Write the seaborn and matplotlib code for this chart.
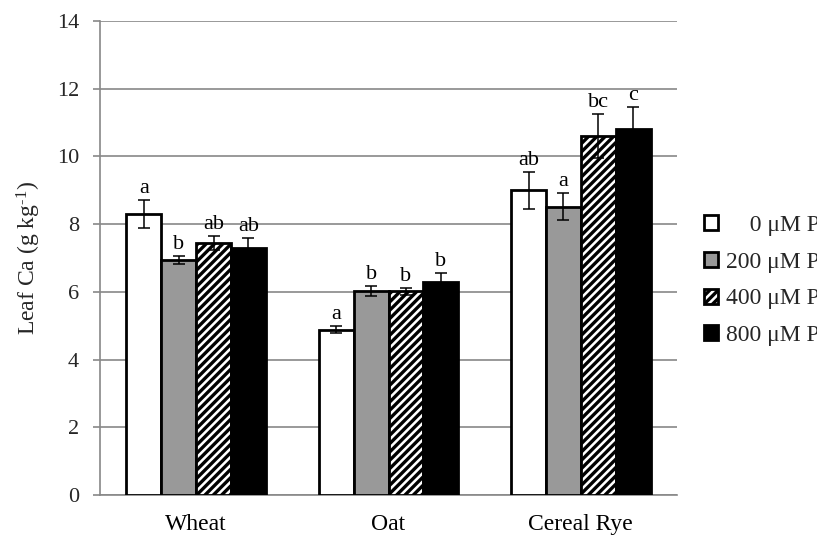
import matplotlib
matplotlib.use("Agg")
import matplotlib.pyplot as plt
import matplotlib.patches as mpatches
import numpy as np
import pandas as pd
import seaborn as sns

crops = ["Wheat", "Oat", "Cereal Rye"]
treatments = ["0 \u03bcM P", "200 \u03bcM P", "400 \u03bcM P", "800 \u03bcM P"]
leaf_ca = {
    "0 \u03bcM P":   [8.30, 4.88, 9.00],
    "200 \u03bcM P": [6.95, 6.02, 8.52],
    "400 \u03bcM P": [7.45, 6.02, 10.60],
    "800 \u03bcM P": [7.30, 6.30, 10.82],
}
leaf_ca_se = {
    "0 \u03bcM P":   [0.40, 0.10, 0.55],
    "200 \u03bcM P": [0.12, 0.15, 0.40],
    "400 \u03bcM P": [0.20, 0.10, 0.65],
    "800 \u03bcM P": [0.30, 0.25, 0.65],
}
letters = {
    "0 \u03bcM P":   ["a", "a", "ab"],
    "200 \u03bcM P": ["b", "b", "a"],
    "400 \u03bcM P": ["ab", "b", "bc"],
    "800 \u03bcM P": ["ab", "b", "c"],
}
legend_labels = ["\u2007\u20070 \u03bcM P", "200 \u03bcM P", "400 \u03bcM P", "800 \u03bcM P"]

rows = []
for t in treatments:
    for i, c in enumerate(crops):
        rows.append({"crop": c, "treatment": t, "ca": leaf_ca[t][i],
                     "se": leaf_ca_se[t][i], "letter": letters[t][i]})
df = pd.DataFrame(rows)

sns.set_theme(style="white")
plt.rcParams["font.family"] = ["Liberation Serif", "DejaVu Serif"]
plt.rcParams["mathtext.fontset"] = "custom"
plt.rcParams["mathtext.rm"] = "Liberation Serif"
plt.rcParams["mathtext.it"] = "Liberation Serif:italic"
plt.rcParams["hatch.linewidth"] = 2.4

fills = ["white", "#999999", "white", "black"]
hatches = [None, None, "////", None]

fig = plt.figure(figsize=(8.17, 5.35), dpi=100)
ax = fig.add_axes([100 / 817, 1 - 495 / 535, 577 / 817, 474 / 535])

sns.barplot(data=df, x="crop", y="ca", hue="treatment", order=crops,
            hue_order=treatments, errorbar=None, width=0.725, dodge=True,
            ax=ax, legend=False, zorder=3)

for j, t in enumerate(treatments):
    cont = ax.containers[j]
    sub = df[df.treatment == t].set_index("crop").loc[crops]
    xs = []
    for bar in cont:
        bar.set_facecolor(fills[j])
        bar.set_edgecolor("black")
        bar.set_linewidth(2.0)
        if hatches[j]:
            bar.set_hatch(hatches[j])
        xs.append(bar.get_x() + bar.get_width() / 2)
    xs = np.array(xs)
    ax.errorbar(xs, sub["ca"].values, yerr=sub["se"].values, fmt="none",
                ecolor="black", elinewidth=1.1, capsize=4, capthick=1.1, zorder=4)
    for x, v, e, lab in zip(xs, sub["ca"].values, sub["se"].values, sub["letter"].values):
        ax.text(x, v + e + 0.06, lab, ha="center", va="bottom", fontsize=16,
                color="black")

ax.set_ylim(0, 14)
ax.set_xlim(-0.5, 2.5)
ax.set_yticks(np.arange(0, 15, 2))
ax.yaxis.grid(True, color="#888888", linewidth=1.2, zorder=0)
ax.set_axisbelow(True)
for s in ["top", "right"]:
    ax.spines[s].set_visible(False)
for s in ["left", "bottom"]:
    ax.spines[s].set_color("#888888")
    ax.spines[s].set_linewidth(1.2)

ax.set_xticks([0, 1, 2])
ax.set_xticks([-0.5, 0.5, 1.5], minor=True)
ax.tick_params(axis="x", which="major", length=0, labelsize=17, pad=14, colors="black")
ax.tick_params(axis="x", which="minor", length=6, width=1.2, color="#888888", direction="out")
ax.tick_params(axis="y", which="major", length=5, width=1.2, color="#888888",
               direction="out", labelsize=16, pad=10, left=True)
ax.set_xlabel("")
ax.set_ylabel("Leaf Ca (g kg$^{\\mathrm{\u2010}1}$)", fontsize=17, labelpad=10)

handles = [mpatches.Patch(facecolor=fills[j], edgecolor="black", linewidth=2.0,
                          hatch=hatches[j]) for j in range(4)]
fig.legend(handles, legend_labels, loc="center left", bbox_to_anchor=(0.8505, 0.4755),
           frameon=False, fontsize=17, handlelength=0.6, handleheight=0.6,
           handletextpad=0.3, labelspacing=0.66, borderaxespad=0)

fig.savefig("out.png", dpi=100)
